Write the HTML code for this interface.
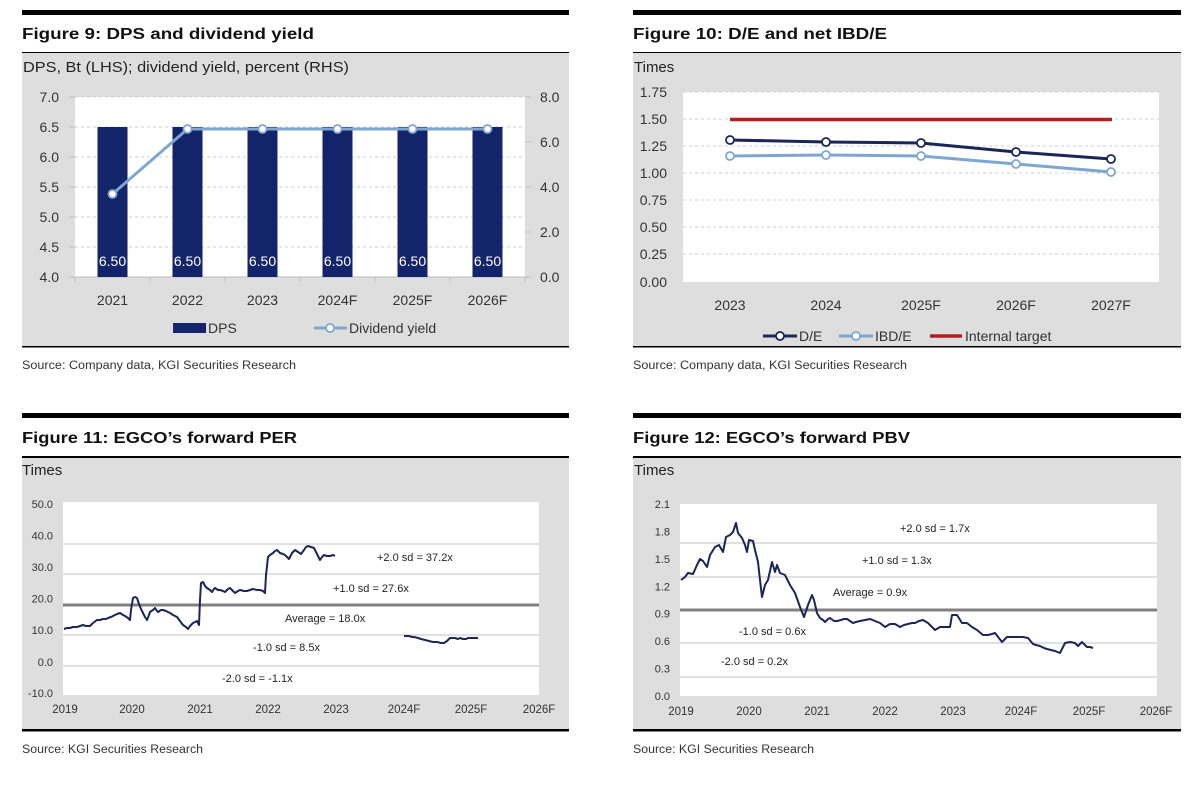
<!DOCTYPE html>
<html>
<head>
<meta charset="utf-8">
<style>
html,body{margin:0;padding:0;background:#fff;}
svg{display:block;}
text{font-family:"Liberation Sans",Arial,sans-serif;}
</style>
</head>
<body>
<svg width="1200" height="785" viewBox="0 0 1200 785" xmlns="http://www.w3.org/2000/svg">
<rect width="1200" height="785" fill="#fff"/>

<!-- ================= FIGURE 9 ================= -->
<rect x="22" y="10" width="547" height="5" fill="#000"/>
<text x="22" y="39" font-size="16" font-weight="bold" fill="#111" textLength="292" lengthAdjust="spacingAndGlyphs">Figure 9: DPS and dividend yield</text>
<rect x="22" y="52" width="547" height="295" fill="#dedede"/>
<rect x="22" y="52" width="547" height="1" fill="#000"/>
<rect x="22" y="346" width="547" height="1.5" fill="#000"/>
<text x="23" y="72" font-size="15" fill="#222" textLength="326" lengthAdjust="spacingAndGlyphs">DPS, Bt (LHS); dividend yield, percent (RHS)</text>
<rect x="75" y="97" width="450" height="180" fill="#fff"/>
<g stroke="#cfcfcf" stroke-width="1" stroke-dasharray="3,3">
<line x1="75" y1="97" x2="525" y2="97"/>
<line x1="75" y1="127" x2="525" y2="127"/>
<line x1="75" y1="157" x2="525" y2="157"/>
<line x1="75" y1="187" x2="525" y2="187"/>
<line x1="75" y1="217" x2="525" y2="217"/>
<line x1="75" y1="247" x2="525" y2="247"/>
</g>
<g stroke="#bdbdbd" stroke-width="1">
<line x1="69" y1="277" x2="525" y2="277"/>
<line x1="69" y1="97" x2="75" y2="97"/><line x1="69" y1="127" x2="75" y2="127"/><line x1="69" y1="157" x2="75" y2="157"/><line x1="69" y1="187" x2="75" y2="187"/><line x1="69" y1="217" x2="75" y2="217"/><line x1="69" y1="247" x2="75" y2="247"/>
<line x1="525" y1="97" x2="531" y2="97"/><line x1="525" y1="142" x2="531" y2="142"/><line x1="525" y1="187" x2="531" y2="187"/><line x1="525" y1="232" x2="531" y2="232"/><line x1="525" y1="277" x2="531" y2="277"/>
<line x1="75" y1="277" x2="75" y2="282"/><line x1="150" y1="277" x2="150" y2="282"/><line x1="225" y1="277" x2="225" y2="282"/><line x1="300" y1="277" x2="300" y2="282"/><line x1="375" y1="277" x2="375" y2="282"/><line x1="450" y1="277" x2="450" y2="282"/><line x1="525" y1="277" x2="525" y2="282"/>
</g>
<g fill="#13246b">
<rect x="97.5" y="127" width="30" height="150"/>
<rect x="172.5" y="127" width="30" height="150"/>
<rect x="247.5" y="127" width="30" height="150"/>
<rect x="322.5" y="127" width="30" height="150"/>
<rect x="397.5" y="127" width="30" height="150"/>
<rect x="472.5" y="127" width="30" height="150"/>
</g>
<g font-size="14" fill="#fff" text-anchor="middle">
<text x="112.5" y="266">6.50</text><text x="187.5" y="266">6.50</text><text x="262.5" y="266">6.50</text><text x="337.5" y="266">6.50</text><text x="412.5" y="266">6.50</text><text x="487.5" y="266">6.50</text>
</g>
<polyline points="112.5,194 187.5,129 262.5,129 337.5,129 412.5,129 487.5,129" fill="none" stroke="#7fa6d0" stroke-width="3"/>
<g fill="#fff" stroke="#7fa6d0" stroke-width="1.8">
<circle cx="112.5" cy="194" r="4"/><circle cx="187.5" cy="129" r="4"/><circle cx="262.5" cy="129" r="4"/><circle cx="337.5" cy="129" r="4"/><circle cx="412.5" cy="129" r="4"/><circle cx="487.5" cy="129" r="4"/>
</g>
<g font-size="14" fill="#333" text-anchor="end">
<text x="59" y="102">7.0</text><text x="59" y="132">6.5</text><text x="59" y="162">6.0</text><text x="59" y="192">5.5</text><text x="59" y="222">5.0</text><text x="59" y="252">4.5</text><text x="59" y="282">4.0</text>
</g>
<g font-size="14" fill="#333">
<text x="540" y="102">8.0</text><text x="540" y="147">6.0</text><text x="540" y="192">4.0</text><text x="540" y="237">2.0</text><text x="540" y="282">0.0</text>
</g>
<g font-size="14" fill="#333" text-anchor="middle">
<text x="112.5" y="305">2021</text><text x="187.5" y="305">2022</text><text x="262.5" y="305">2023</text><text x="337.5" y="305">2024F</text><text x="412.5" y="305">2025F</text><text x="487.5" y="305">2026F</text>
</g>
<rect x="173" y="323" width="33" height="10" fill="#13246b"/>
<text x="208" y="333" font-size="14" fill="#333">DPS</text>
<line x1="314" y1="328" x2="347" y2="328" stroke="#7fa6d0" stroke-width="3"/>
<circle cx="330" cy="328" r="4" fill="#fff" stroke="#7fa6d0" stroke-width="1.8"/>
<text x="349" y="333" font-size="14" fill="#333">Dividend yield</text>
<text x="22" y="369" font-size="11.5" fill="#333" textLength="274" lengthAdjust="spacingAndGlyphs">Source: Company data, KGI Securities Research</text>

<!-- ================= FIGURE 10 ================= -->
<rect x="633" y="10" width="548" height="5" fill="#000"/>
<text x="633" y="39" font-size="16" font-weight="bold" fill="#111" textLength="254" lengthAdjust="spacingAndGlyphs">Figure 10: D/E and net IBD/E</text>
<rect x="633" y="52" width="548" height="295" fill="#dedede"/>
<rect x="633" y="52" width="548" height="1" fill="#000"/>
<rect x="633" y="346" width="548" height="1.5" fill="#000"/>
<text x="634" y="72" font-size="15" fill="#222">Times</text>
<rect x="683" y="92" width="476" height="190" fill="#fff"/>
<g stroke="#cfcfcf" stroke-width="1" stroke-dasharray="3,3">
<line x1="683" y1="92" x2="1159" y2="92"/>
<line x1="683" y1="119" x2="1159" y2="119"/>
<line x1="683" y1="146" x2="1159" y2="146"/>
<line x1="683" y1="173" x2="1159" y2="173"/>
<line x1="683" y1="200" x2="1159" y2="200"/>
<line x1="683" y1="227" x2="1159" y2="227"/>
<line x1="683" y1="254" x2="1159" y2="254"/>
</g>
<line x1="730" y1="119.5" x2="1112" y2="119.5" stroke="#b41f24" stroke-width="3.5"/>
<polyline points="730,156 826,155 921,156 1016,164 1111,172" fill="none" stroke="#7fa6d0" stroke-width="3"/>
<polyline points="730,140 826,142 921,143 1016,152 1111,159" fill="none" stroke="#1b2556" stroke-width="3"/>
<g fill="#fff" stroke="#7fa6d0" stroke-width="1.8">
<circle cx="730" cy="156" r="4"/><circle cx="826" cy="155" r="4"/><circle cx="921" cy="156" r="4"/><circle cx="1016" cy="164" r="4"/><circle cx="1111" cy="172" r="4"/>
</g>
<g fill="#fff" stroke="#1b2556" stroke-width="1.8">
<circle cx="730" cy="140" r="4"/><circle cx="826" cy="142" r="4"/><circle cx="921" cy="143" r="4"/><circle cx="1016" cy="152" r="4"/><circle cx="1111" cy="159" r="4"/>
</g>
<g font-size="14" fill="#333" text-anchor="end">
<text x="667" y="97">1.75</text><text x="667" y="124">1.50</text><text x="667" y="151">1.25</text><text x="667" y="178">1.00</text><text x="667" y="205">0.75</text><text x="667" y="232">0.50</text><text x="667" y="259">0.25</text><text x="667" y="287">0.00</text>
</g>
<g font-size="14" fill="#333" text-anchor="middle">
<text x="730" y="310">2023</text><text x="826" y="310">2024</text><text x="921" y="310">2025F</text><text x="1016" y="310">2026F</text><text x="1111" y="310">2027F</text>
</g>
<line x1="763" y1="336" x2="797" y2="336" stroke="#1b2556" stroke-width="3"/>
<circle cx="780" cy="336" r="4" fill="#fff" stroke="#1b2556" stroke-width="1.8"/>
<text x="799" y="341" font-size="14" fill="#333">D/E</text>
<line x1="839" y1="336" x2="873" y2="336" stroke="#7fa6d0" stroke-width="3"/>
<circle cx="856" cy="336" r="4" fill="#fff" stroke="#7fa6d0" stroke-width="1.8"/>
<text x="875" y="341" font-size="14" fill="#333">IBD/E</text>
<line x1="930" y1="336" x2="962" y2="336" stroke="#b41f24" stroke-width="3.5"/>
<text x="965" y="341" font-size="14" fill="#333">Internal target</text>
<text x="633" y="369" font-size="11.5" fill="#333" textLength="274" lengthAdjust="spacingAndGlyphs">Source: Company data, KGI Securities Research</text>

<!-- ================= FIGURE 11 ================= -->
<rect x="22" y="413" width="547" height="5" fill="#000"/>
<text x="22" y="443" font-size="16" font-weight="bold" fill="#111" textLength="275" lengthAdjust="spacingAndGlyphs">Figure 11: EGCO’s forward PER</text>
<rect x="22" y="457" width="547" height="273" fill="#dedede"/>
<rect x="22" y="456" width="547" height="2" fill="#000"/>
<rect x="22" y="729" width="547" height="2.5" fill="#000"/>
<text x="22" y="475" font-size="15" fill="#222">Times</text>
<rect x="63" y="502" width="476" height="193" fill="#fff"/>
<g stroke="#d6d6d6" stroke-width="1.5">
<line x1="63" y1="544" x2="539" y2="544"/>
<line x1="63" y1="574" x2="539" y2="574"/>
<line x1="63" y1="635" x2="539" y2="635"/>
<line x1="63" y1="666" x2="539" y2="666"/>
</g>
<line x1="63" y1="605" x2="539" y2="605" stroke="#808080" stroke-width="3"/>
<polyline fill="none" stroke="#1b2556" stroke-width="2" stroke-linejoin="round" points="64,629 67,628 70,628 73,627 77,627 80,626 83,625 86,626 90,626 93,623 97,620 100,620 103,619 106,619 108,618 111,617 113,616 117,614 120,613 123,615 125,616 128,618 130,620 131,610 133,598 135,597 137,598 139,604 141,609 143,613 145,617 147,620 149,615 150,612 153,610 155,608 157,611 158,612 161,610 163,610 166,611 170,613 173,615 177,617 180,621 183,625 186,627 188,629 190,626 193,623 195,622 197,621 199,625 200,600 201,583 203,582 205,586 207,588 210,590 212,592 214,589 215,588 218,590 220,590 223,591 225,592 228,589 230,588 233,591 235,593 238,591 240,590 244,591 247,591 250,590 253,589 257,590 260,590 263,591 265,593 266,575 268,557 270,555 273,553 275,551 277,550 279,552 280,553 283,554 285,555 287,557 289,559 292,553 295,550 298,552 301,554 304,550 306,547 308,546 311,547 314,548 317,554 320,560 322,557 324,555 327,556 330,556 333,555 335,556"/>
<polyline fill="none" stroke="#1b2556" stroke-width="2" stroke-linejoin="round" points="404,636 407,636 409,636 412,637 414,637 418,638 421,639 425,640 429,641 433,642 437,642 441,643 444,643 447,641 450,638 453,638 455,638 458,639 460,638 463,639 466,639 468,638 470,638 474,638 478,638"/>
<g font-size="11" fill="#222">
<text x="377" y="561">+2.0 sd = 37.2x</text>
<text x="333" y="592">+1.0 sd = 27.6x</text>
<text x="285" y="622">Average = 18.0x</text>
<text x="253" y="651">-1.0 sd = 8.5x</text>
<text x="222" y="682">-2.0 sd = -1.1x</text>
</g>
<g font-size="11" fill="#333" text-anchor="end">
<text x="53" y="508">50.0</text><text x="53" y="539.5">40.0</text><text x="53" y="571">30.0</text><text x="53" y="602.5">20.0</text><text x="53" y="634">10.0</text><text x="53" y="666">0.0</text><text x="53" y="697">-10.0</text>
</g>
<g font-size="11.5" fill="#333" text-anchor="middle">
<text x="65" y="713">2019</text><text x="132" y="713">2020</text><text x="200" y="713">2021</text><text x="268" y="713">2022</text><text x="336" y="713">2023</text><text x="404" y="713">2024F</text><text x="471" y="713">2025F</text><text x="539" y="713">2026F</text>
</g>
<text x="22" y="753" font-size="11.5" fill="#333" textLength="181" lengthAdjust="spacingAndGlyphs">Source: KGI Securities Research</text>

<!-- ================= FIGURE 12 ================= -->
<rect x="633" y="413" width="548" height="5" fill="#000"/>
<text x="633" y="443" font-size="16" font-weight="bold" fill="#111" textLength="277" lengthAdjust="spacingAndGlyphs">Figure 12: EGCO’s forward PBV</text>
<rect x="633" y="457" width="548" height="273" fill="#dedede"/>
<rect x="633" y="456" width="548" height="2" fill="#000"/>
<rect x="633" y="729" width="548" height="2.5" fill="#000"/>
<text x="634" y="475" font-size="15" fill="#222">Times</text>
<rect x="680" y="504" width="477" height="192" fill="#fff"/>
<g stroke="#d6d6d6" stroke-width="1.5">
<line x1="680" y1="543" x2="1157" y2="543"/>
<line x1="680" y1="577" x2="1157" y2="577"/>
<line x1="680" y1="643" x2="1157" y2="643"/>
<line x1="680" y1="677" x2="1157" y2="677"/>
</g>
<line x1="680" y1="610" x2="1157" y2="610" stroke="#808080" stroke-width="3"/>
<polyline fill="none" stroke="#1b2556" stroke-width="2" stroke-linejoin="round" points="681,580 685,577 688,573 693,574 697,565 700,559 703,561 707,567 710,555 715,547 719,545 723,552 726,537 730,535 733,532 736,523 738,533 742,538 745,545 747,552 749,540 753,541 755,550 758,562 760,580 762,597 765,585 768,580 772,562 775,572 777,565 780,573 785,575 790,585 795,593 800,607 804,617 808,605 812,595 814,600 817,613 820,618 823,620 825,622 828,619 830,618 834,621 837,621 841,620 844,619 847,619 850,621 853,623 856,622 860,621 865,620 870,619 875,621 880,623 885,627 890,624 895,624 900,627 904,625 908,624 912,623 915,623 919,621 923,620 928,623 932,627 935,630 940,627 945,627 950,627 952,615 957,615 962,623 967,623 972,627 977,630 983,635 988,635 992,634 995,633 1002,642 1007,637 1011,637 1015,637 1019,637 1023,637 1028,638 1033,644 1036,645 1040,646 1044,648 1047,649 1051,650 1055,651 1060,653 1065,643 1070,642 1075,643 1078,646 1082,642 1087,647 1090,647 1093,648"/>
<g font-size="11" fill="#222">
<text x="900" y="532">+2.0 sd = 1.7x</text>
<text x="862" y="564">+1.0 sd = 1.3x</text>
<text x="833" y="596">Average = 0.9x</text>
<text x="739" y="635">-1.0 sd = 0.6x</text>
<text x="721" y="665">-2.0 sd = 0.2x</text>
</g>
<g font-size="11" fill="#333" text-anchor="end">
<text x="670" y="508">2.1</text><text x="670" y="535.4">1.8</text><text x="670" y="562.9">1.5</text><text x="670" y="590.3">1.2</text><text x="670" y="617.7">0.9</text><text x="670" y="645.1">0.6</text><text x="670" y="672.6">0.3</text><text x="670" y="700">0.0</text>
</g>
<g font-size="11.5" fill="#333" text-anchor="middle">
<text x="681" y="715">2019</text><text x="749" y="715">2020</text><text x="817" y="715">2021</text><text x="885" y="715">2022</text><text x="953" y="715">2023</text><text x="1021" y="715">2024F</text><text x="1089" y="715">2025F</text><text x="1156" y="715">2026F</text>
</g>
<text x="633" y="753" font-size="11.5" fill="#333" textLength="181" lengthAdjust="spacingAndGlyphs">Source: KGI Securities Research</text>
</svg>
</body>
</html>
